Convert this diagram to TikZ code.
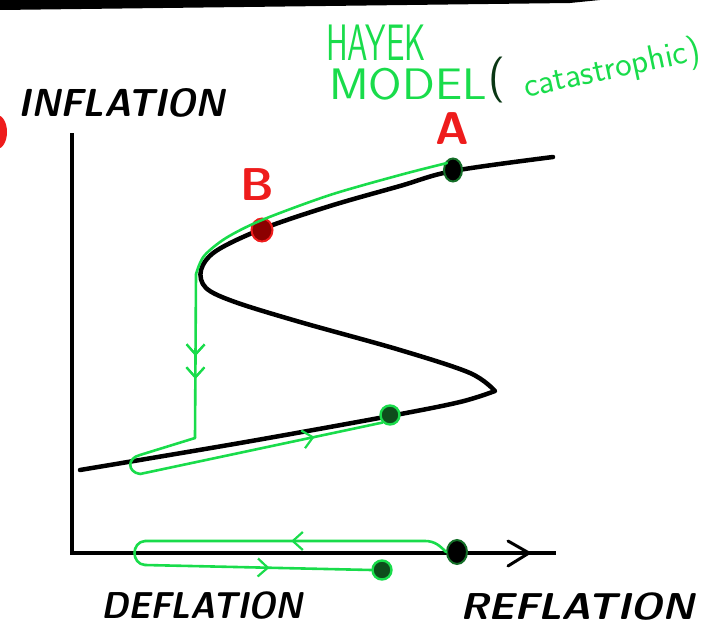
\documentclass[tikz,border=0pt]{standalone}
\usepackage{tikz}
\usetikzlibrary{arrows.meta, shapes.geometric, decorations.markings}

\definecolor{sketchgreen}{RGB}{25,220,75}
\definecolor{sketchred}{RGB}{238,28,28}
\definecolor{dotgreen}{RGB}{20,110,40}

\begin{document}
\begin{tikzpicture}[x=1pt, y=-1pt,
    curve/.style={line width=4.5pt, black, line cap=round, line join=round},
    axis/.style={line width=3.5pt, black},
    trail/.style={line width=2.6pt, sketchgreen, line cap=round, line join=round},
    midarrow/.style={postaction={decorate}, decoration={markings, mark=at position #1 with {\arrow[sketchgreen, line width=2.2pt]{Straight Barb[length=10pt, width=18pt]}}}},
    blackdot/.style={ellipse, fill=black, draw=dotgreen, line width=2pt, minimum width=18pt, minimum height=23pt, inner sep=0pt},
    reddot/.style={ellipse, fill=red!55!black, draw=sketchred, line width=2pt, minimum width=21pt, minimum height=23pt, inner sep=0pt},
    greendot/.style={circle, fill=dotgreen!70!black, draw=sketchgreen, line width=2.4pt, minimum size=19pt, inner sep=0pt},
    axislabel/.style={inner sep=0pt, font=\sffamily\bfseries\slshape\fontsize{34}{36}\selectfont},
    titlelabel/.style={inner sep=0pt, text=sketchgreen, font=\sffamily\fontsize{42}{44}\selectfont},
    pointlabel/.style={inner sep=0pt, text=sketchred, font=\sffamily\bfseries\fontsize{46}{48}\selectfont}
]
\clip (0,0) rectangle (726,634);

% scan edge and smudge
\fill[black] (0,0) -- (600,0) -- (570,3) -- (0,10) -- cycle;
\fill[sketchred] (-3,132) ellipse [x radius=10pt, y radius=17pt];

% axes
\coordinate (top) at (72,133);
\coordinate (origin) at (72,553);
\coordinate (right) at (556,553);
\draw[axis] (top) -- (origin) -- (right);
\draw[axis, line width=3pt, line cap=round] (508,541) -- (529,553) -- (508,566);

% S curve
\draw[curve] plot[smooth, tension=0.55] coordinates {(80,470) (240,443) (390,416) (460,402) (495,391)}
  -- plot[smooth, tension=0.55] coordinates {(495,391) (470,373) (400,350) (300,322) (235,302) (206,288) (201,270) (216,251) (262,229) (330,206) (400,186) (453,171) (553,157)};

% points on the curve
\node[blackdot] (dotA) at (453,170) {};
\node[reddot] (dotB) at (262,230) {};
\node[greendot] (dotLow) at (390,415) {};
\node[blackdot, minimum width=20pt, minimum height=24pt] (dotAxis) at (457,552) {};
\node[greendot] (dotAxisLow) at (382,570) {};

% jump from B down to the lower branch
\coordinate (nose) at (196,274);
\coordinate (drop) at (195,438);
\coordinate (loopTop) at (140,455);
\coordinate (loopBot) at (140,474);
\draw[trail] (dotA.north west) plot[smooth, tension=0.5] coordinates {(447,163) (400,175) (330,195) (262,220) (226,238) (204,256) (196,274)};
\draw[trail, midarrow=0.5, midarrow=0.64] (nose) -- (drop);
\draw[trail] (drop) -- (loopTop) .. controls (127,458) and (127,472) .. (loopBot);
\draw[trail, midarrow=0.72] (loopBot) -- (dotLow.south west);

% loop along the axis
\coordinate (axTop) at (145,541);
\coordinate (axBot) at (145,565);
\draw[trail, midarrow=0.52] (dotAxis.west) .. controls (440,546) and (435,541) .. (425,541) -- (axTop);
\draw[trail] (axTop) .. controls (131,542) and (131,564) .. (axBot);
\draw[trail, midarrow=0.55] (axBot) -- (dotAxisLow.west);

% labels
\node[axislabel] (inflation) at (122,103) {\scalebox{1.08}[1.15]{INFLATION}};
\node[axislabel] (deflation) at (202,606) {\scalebox{1}[1.1]{DEFLATION}};
\node[axislabel] (reflation) at (577,607) {\scalebox{1.18}[1.1]{REFLATION}};
\node[pointlabel] (labelA) at (452,129) {A};
\node[pointlabel] (labelB) at (257,185) {B};
\node[titlelabel] (hayek) at (376,43) {\scalebox{0.78}[1.22]{HAYEK}};
\node[titlelabel] (model) at (408,84) {\scalebox{1.15}[1.05]{MODEL}};
\node[titlelabel, text=dotgreen!50!black, font=\sffamily\fontsize{46}{48}\selectfont] (paren) at (497,80) {(};
\node[titlelabel, rotate=12, font=\sffamily\fontsize{35}{37}\selectfont] (kind) at (612,70) {catastrophic)};
\end{tikzpicture}
\end{document}
